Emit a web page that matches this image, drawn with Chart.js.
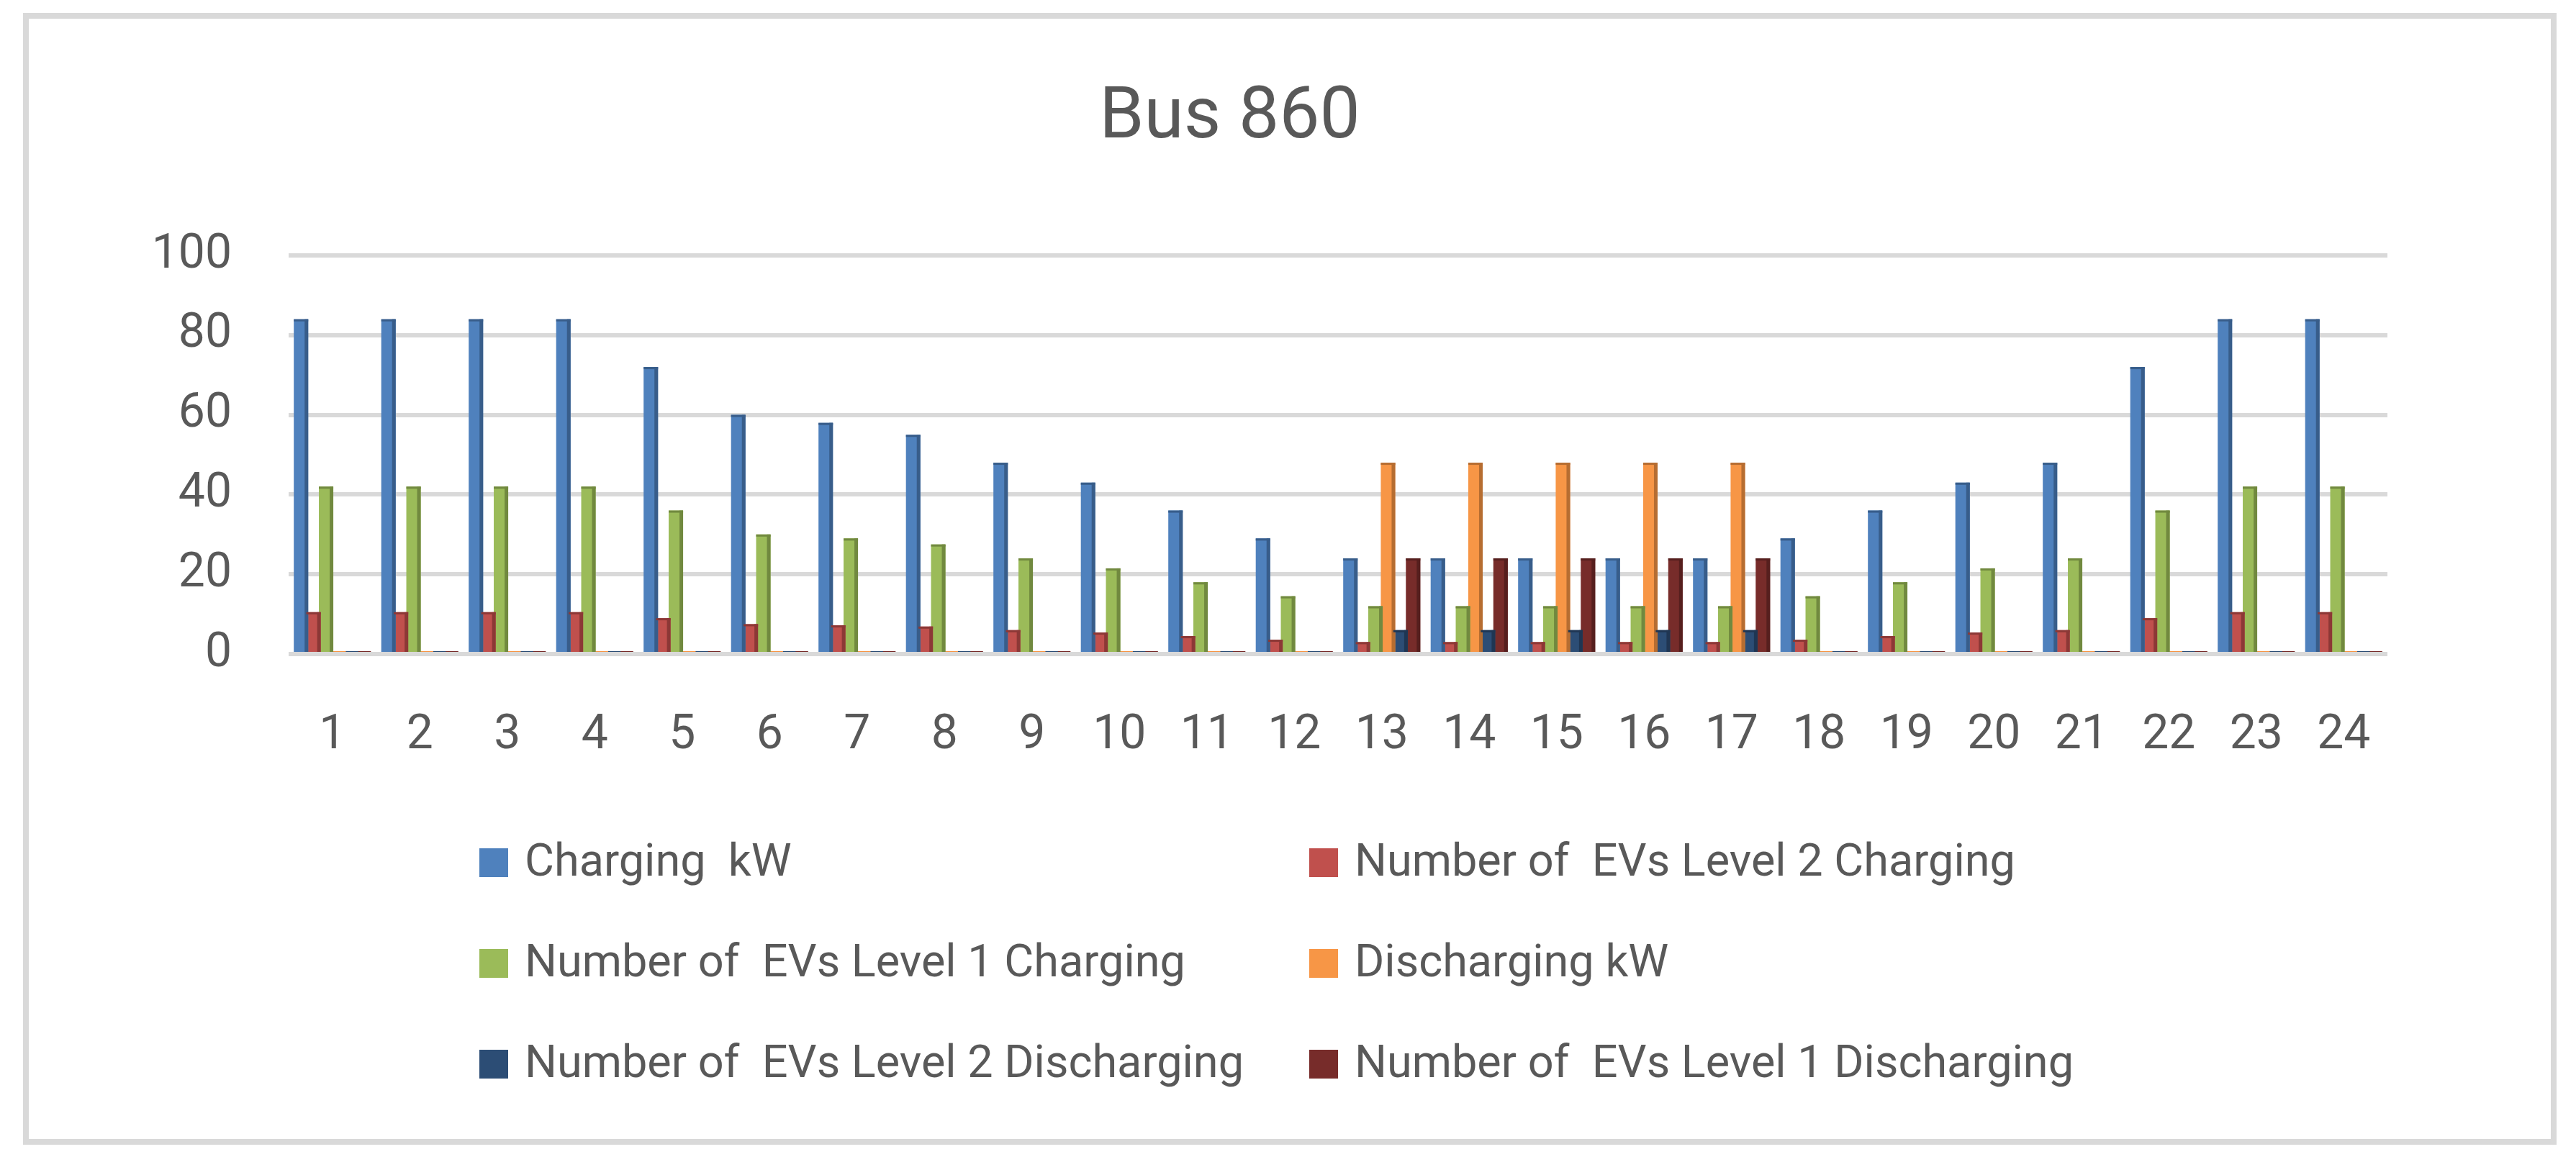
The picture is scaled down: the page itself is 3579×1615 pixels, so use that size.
<!DOCTYPE html>
<html>
<head>
<meta charset="utf-8">
<title>Bus 860</title>
<script src="https://cdn.jsdelivr.net/npm/chart.js@4.4.1/dist/chart.umd.min.js"></script>
<style>
    html, body { margin: 0; padding: 0; background: #ffffff; }
    #wrap { position: relative; width: 3579px; height: 1615px; }
    #frame {
        position: absolute; left: 32px; top: 18px; width: 3520px; height: 1573px;
        border: 8px solid #d9d9d9; box-sizing: border-box;
    }
    #chartCanvas { position: absolute; left: 0; top: 0; }
</style>
</head>
<body>
<div id="wrap">
    <div id="frame"></div>
    <canvas id="chartCanvas" width="3579" height="1615"></canvas>
</div>
<script>
// -------------------------------------------------------------
// DATA
// -------------------------------------------------------------
var hours = ['1','2','3','4','5','6','7','8','9','10','11','12',
             '13','14','15','16','17','18','19','20','21','22','23','24']

var chargingKW   = [84, 84, 84, 84, 72, 60, 58, 55, 48, 43, 36, 29, 24, 24, 24, 24, 24, 29, 36, 43, 48, 72, 84, 84]
var evL2Charging = [10.5, 10.5, 10.5, 10.5, 9, 7.5, 7.2, 6.9, 6, 5.4, 4.5, 3.6, 3, 3, 3, 3, 3, 3.6, 4.5, 5.4, 6, 9, 10.5, 10.5]
var evL1Charging = [42, 42, 42, 42, 36, 30, 29, 27.5, 24, 21.5, 18, 14.5, 12, 12, 12, 12, 12, 14.5, 18, 21.5, 24, 36, 42, 42]
var dischargingKW   = [0, 0, 0, 0, 0, 0, 0, 0, 0, 0, 0, 0, 48, 48, 48, 48, 48, 0, 0, 0, 0, 0, 0, 0]
var evL2Discharging = [0, 0, 0, 0, 0, 0, 0, 0, 0, 0, 0, 0, 6, 6, 6, 6, 6, 0, 0, 0, 0, 0, 0, 0]
var evL1Discharging = [0, 0, 0, 0, 0, 0, 0, 0, 0, 0, 0, 0, 24, 24, 24, 24, 24, 0, 0, 0, 0, 0, 0, 0]

var seriesNames = [
    'Charging  kW',
    'Number of  EVs Level 2 Charging',
    'Number of  EVs Level 1 Charging',
    'Discharging kW',
    'Number of  EVs Level 2 Discharging',
    'Number of  EVs Level 1 Discharging'
]
var seriesColors = ['#4f81bd', '#c0504d', '#9bbb59', '#f79646', '#2c4d75', '#772c2a']
var sideColors   = ['#385d8a', '#8c3836', '#71893f', '#b66d31', '#1f3653', '#561f1e']

var yTicks = [0, 20, 40, 60, 80, 100]
var chartTitle = 'Bus 860'

var textColor = '#595959'
var fontName = 'Roboto, "Liberation Sans", sans-serif'

// -------------------------------------------------------------
// DATASETS
// -------------------------------------------------------------
var allSeries = [chargingKW, evL2Charging, evL1Charging, dischargingKW, evL2Discharging, evL1Discharging]

var datasets = allSeries.map((values, i) => {
    return {
        label: seriesNames[i],
        data: values,
        backgroundColor: seriesColors[i],
        sideColor: sideColors[i],
        borderWidth: 0,
        minBarLength: 4,          // zero values still show a thin sliver, like the original
        categoryPercentage: 0.86,
        barPercentage: 1.15       // a little overlap between neighbours
    }
})

// darker right edge so the bars look a bit like the 3D columns
var shadePlugin = {
    id: 'shade',
    afterDatasetsDraw(chart) {
        var ctx = chart.ctx
        ctx.save()
        chart.data.datasets.forEach((ds, i) => {
            var meta = chart.getDatasetMeta(i)
            meta.data.forEach(bar => {
                var h = bar.base - bar.y
                if (h < 8) return
                var w = bar.width
                ctx.fillStyle = ds.sideColor
                ctx.fillRect(bar.x + w / 2 - 5, bar.y, 5, h)
                ctx.fillRect(bar.x - w / 2, bar.y, w, 3)
            })
        })
        ctx.restore()
    }
}

// legend in two columns, three rows (like the original)
var legendPlugin = {
    id: 'twoColLegend',
    afterDraw(chart) {
        var ctx = chart.ctx
        var colX = [666, 1819]
        var rowY = [1199, 1339, 1479]
        ctx.save()
        ctx.font = '63px ' + fontName
        ctx.textBaseline = 'middle'
        ctx.textAlign = 'left'
        chart.data.datasets.forEach((ds, i) => {
            var x = colX[i % 2]
            var y = rowY[Math.floor(i / 2)]
            ctx.fillStyle = ds.backgroundColor
            ctx.fillRect(x, y - 20, 40, 40)
            ctx.fillStyle = textColor
            ctx.fillText(ds.label, x + 63, y + 2)
        })
        ctx.restore()
    }
}

var ctx = document.getElementById('chartCanvas')

var myChart = new Chart(ctx, {
    type: 'bar',
    data: { labels: hours, datasets: datasets },
    options: {
        responsive: false,
        animation: false,
        devicePixelRatio: 1,
        layout: { padding: { top: 40, left: 100, right: 262, bottom: 556 } },
        plugins: {
            legend: { display: false },
            tooltip: { enabled: false },
            title: {
                display: true,
                text: chartTitle,
                color: textColor,
                font: { family: fontName, size: 100, weight: 'normal' },
                padding: { top: 66, bottom: 129 }
            }
        },
        scales: {
            x: {
                grid: { display: false },
                border: { display: false },
                ticks: {
                    color: textColor,
                    font: { family: fontName, size: 66 },
                    padding: 67,
                    maxRotation: 0,
                    autoSkip: false
                },
                afterFit: s => { s.height = 150 }
            },
            y: {
                min: 0,
                max: 100,
                afterBuildTicks: s => { s.ticks = yTicks.map(v => ({ value: v })) },
                grid: { color: '#d9d9d9', lineWidth: 6, drawTicks: false },
                border: { display: false },
                ticks: {
                    color: textColor,
                    font: { family: fontName, size: 66 },
                    padding: 79
                },
                afterFit: s => { s.width = 301 }
            }
        }
    },
    plugins: [shadePlugin, legendPlugin]
})
</script>
</body>
</html>
